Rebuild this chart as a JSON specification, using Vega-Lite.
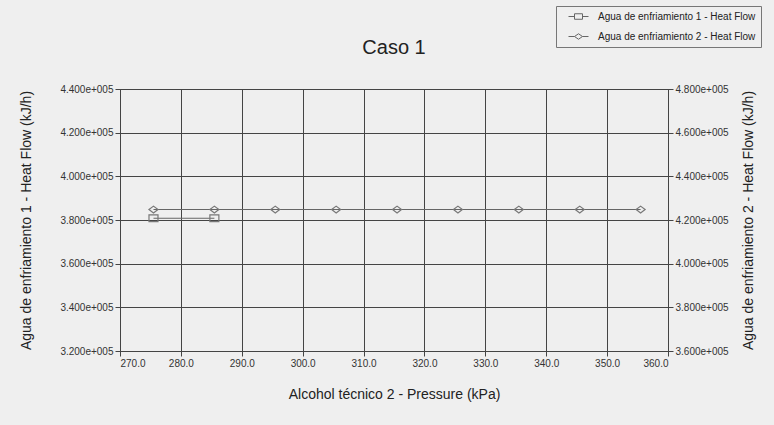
{
  "$schema": "https://vega.github.io/schema/vega-lite/v6.json",
  "autosize": "none",
  "width": 548,
  "height": 262,
  "padding": {"left": 120, "top": 89, "right": 106, "bottom": 74},
  "background": "#efefef",
  "title": {
    "text": "Caso 1",
    "anchor": "middle",
    "fontSize": 20,
    "fontWeight": "normal",
    "font": "Liberation Sans",
    "color": "#222222",
    "offset": 0,
    "dy": 52
  },
  "datasets": {
    "agua1": [
      {"p": 275.5, "q": 380800, "serie": "Agua de enfriamiento 1 - Heat Flow"},
      {"p": 285.5, "q": 380800, "serie": "Agua de enfriamiento 1 - Heat Flow"}
    ],
    "agua2": [
      {"p": 275.5, "q": 424800, "serie": "Agua de enfriamiento 2 - Heat Flow"},
      {"p": 285.5, "q": 424800, "serie": "Agua de enfriamiento 2 - Heat Flow"},
      {"p": 295.5, "q": 424800, "serie": "Agua de enfriamiento 2 - Heat Flow"},
      {"p": 305.5, "q": 424800, "serie": "Agua de enfriamiento 2 - Heat Flow"},
      {"p": 315.5, "q": 424800, "serie": "Agua de enfriamiento 2 - Heat Flow"},
      {"p": 325.5, "q": 424800, "serie": "Agua de enfriamiento 2 - Heat Flow"},
      {"p": 335.5, "q": 424800, "serie": "Agua de enfriamiento 2 - Heat Flow"},
      {"p": 345.5, "q": 424800, "serie": "Agua de enfriamiento 2 - Heat Flow"},
      {"p": 355.5, "q": 424800, "serie": "Agua de enfriamiento 2 - Heat Flow"}
    ]
  },
  "encoding": {
    "x": {
      "field": "p",
      "type": "quantitative",
      "scale": {"domain": [270, 360], "nice": false, "zero": false},
      "axis": {
        "title": "Alcohol técnico 2 - Pressure (kPa)",
        "values": [270, 280, 290, 300, 310, 320, 330, 340, 350, 360],
        "format": ".1f",
        "titlePadding": 19
      }
    }
  },
  "layer": [
    {
      "data": {"name": "agua1"},
      "encoding": {
        "y": {
          "field": "q",
          "type": "quantitative",
          "scale": {"domain": [320000, 440000], "nice": false, "zero": false},
          "axis": {
            "title": "Agua de enfriamiento 1 - Heat Flow (kJ/h)",
            "orient": "left",
            "values": [320000, 340000, 360000, 380000, 400000, 420000, 440000],
            "labelExpr": "replace(format(datum.value, '.3e'), 'e+', 'e+00')",
            "titlePadding": 26,
            "grid": true
          }
        }
      },
      "layer": [
        {"mark": {"type": "line", "color": "#666666", "strokeWidth": 1.2}},
        {"mark": {"type": "point", "shape": "M-1,-0.75H1V0.75H-1Z", "filled": false, "size": 81, "color": "#777777", "strokeWidth": 1.2, "opacity": 1}},
        {
          "mark": {"type": "point", "filled": false, "size": 100, "color": "#666666", "strokeWidth": 1, "opacity": 0},
          "encoding": {
            "shape": {
              "field": "serie",
              "type": "nominal",
              "scale": {
                "domain": ["Agua de enfriamiento 1 - Heat Flow", "Agua de enfriamiento 2 - Heat Flow"],
                "range": ["M-2,0H-0.8M0.8,0H2M-0.8,-0.55H0.8V0.55H-0.8Z", "M-2,0H-0.8M0.8,0H2M-0.8,0L0,-0.55L0.8,0L0,0.55Z"]
              },
              "legend": {
                "title": null,
                "orient": "none",
                "legendX": 436,
                "legendY": -83,
                "padding": 5,
                "strokeColor": "#777777",
                "fillColor": "#efefef",
                "symbolSize": 100,
                "symbolOpacity": 1,
                "symbolOffset": 12,
                "symbolStrokeColor": "#666666",
                "symbolStrokeWidth": 1,
                "symbolFillColor": "transparent",
                "labelOffset": 14,
                "labelFontSize": 10,
                "labelFont": "Liberation Sans",
                "labelColor": "#222222",
                "labelLimit": 300,
                "rowPadding": 9
              }
            }
          }
        }
      ]
    },
    {
      "data": {"name": "agua2"},
      "encoding": {
        "y": {
          "field": "q",
          "type": "quantitative",
          "scale": {"domain": [360000, 480000], "nice": false, "zero": false},
          "axis": {
            "title": "Agua de enfriamiento 2 - Heat Flow (kJ/h)",
            "orient": "right",
            "values": [360000, 380000, 400000, 420000, 440000, 460000, 480000],
            "labelExpr": "replace(format(datum.value, '.3e'), 'e+', 'e+00')",
            "titleAngle": -90,
            "titlePadding": 27,
            "grid": false
          }
        }
      },
      "layer": [
        {"mark": {"type": "line", "color": "#666666", "strokeWidth": 1.2}},
        {"mark": {"type": "point", "shape": "M-1,0L0,-0.75L1,0L0,0.75Z", "filled": false, "size": 81, "color": "#777777", "strokeWidth": 1.2, "opacity": 1}},
        {
          "mark": {"type": "point", "filled": false, "size": 100, "color": "#666666", "strokeWidth": 1, "opacity": 0},
          "encoding": {
            "shape": {"field": "serie", "type": "nominal"}
          }
        }
      ]
    }
  ],
  "resolve": {"scale": {"y": "independent"}},
  "config": {
    "font": "Liberation Sans",
    "view": {"stroke": "#444444", "strokeWidth": 1, "fill": "#efefef"},
    "axis": {
      "labelFont": "Liberation Sans",
      "labelFontSize": 10,
      "labelColor": "#333333",
      "titleFont": "Liberation Sans",
      "titleFontSize": 14,
      "titleFontWeight": "normal",
      "titleColor": "#222222",
      "gridColor": "#444444",
      "gridOpacity": 1,
      "gridWidth": 1,
      "domainColor": "#444444",
      "tickColor": "#444444",
      "tickSize": 5,
      "labelPadding": 2
    }
  }
}
